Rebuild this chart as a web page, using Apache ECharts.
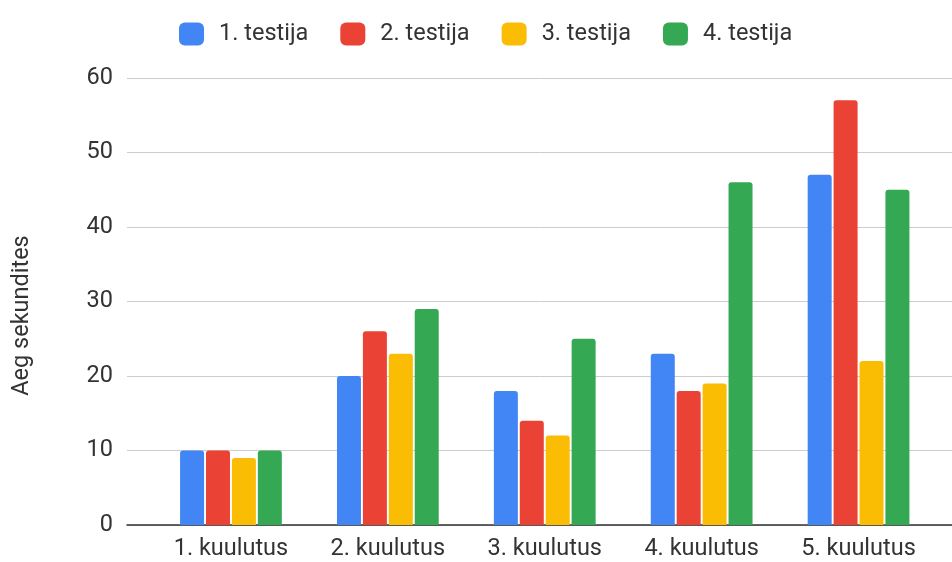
<!DOCTYPE html>
<html>
<head>
<meta charset="utf-8">
<script src="https://cdn.jsdelivr.net/npm/echarts@6/dist/echarts.min.js"></script>
<style>
  html, body { margin: 0; padding: 0; background: #fff; }
  #chart { width: 952px; height: 562px; }
</style>
</head>
<body>
<div id="chart"></div>
<script>
const categories = ['1. kuulutus', '2. kuulutus', '3. kuulutus', '4. kuulutus', '5. kuulutus'];
const seriesNames = ['1. testija', '2. testija', '3. testija', '4. testija'];
const test1 = [10, 20, 18, 23, 47];
const test2 = [10, 26, 14, 18, 57];
const test3 = [9, 23, 12, 19, 22];
const test4 = [10, 29, 25, 46, 45];
const colors = ['#4285F4', '#EA4335', '#FBBC04', '#34A853'];

const font = 'Roboto, "Liberation Sans", Arial, sans-serif';
const fontSize = 23.5;
const textColor = '#333';

const myChart = echarts.init(document.getElementById('chart'));

// bars
const series = [test1, test2, test3, test4].map((vals, i) => ({
  name: seriesNames[i],
  type: 'bar',
  xAxisIndex: 1,
  yAxisIndex: 1,
  data: vals,
  barWidth: 24,
  barGap: '8%',
  itemStyle: { color: colors[i], borderRadius: [3, 3, 0, 0] }
}));

const option = {
  animation: false,
  color: colors,
  textStyle: { fontFamily: font },
  legend: {
    data: seriesNames,
    left: 174,
    top: 17,
    icon: 'roundRect',
    itemWidth: 25,
    itemHeight: 23,
    itemGap: 32,
    textStyle: { fontSize: fontSize, color: textColor, fontFamily: font, padding: [0, 0, 0, 10] }
  },
  grid: [
    { left: 127, right: 0, top: 78, bottom: 37 },
    { left: 152.5, width: 784.5, top: 78, bottom: 37 }
  ],
  xAxis: [
    {
      type: 'value', gridIndex: 0, min: 0, max: 1,
      axisLine: { show: true, lineStyle: { color: '#333', width: 1.5 } },
      axisTick: { show: false }, axisLabel: { show: false }, splitLine: { show: false }
    },
    {
      type: 'category', gridIndex: 1, data: categories,
      axisLine: { show: false }, axisTick: { show: false },
      axisLabel: { fontSize: fontSize, color: textColor, margin: 12, fontFamily: font }
    }
  ],
  yAxis: [
    {
      type: 'value', gridIndex: 0, min: 0, max: 60, interval: 10,
      name: 'Aeg sekundites',
      nameLocation: 'middle',
      nameGap: 93,
      nameTextStyle: { fontSize: fontSize, color: textColor, fontFamily: font, padding: [0, 28, 0, 0] },
      axisLine: { show: false }, axisTick: { show: false },
      axisLabel: { fontSize: fontSize, color: textColor, margin: 14, fontFamily: font },
      splitLine: { lineStyle: { color: '#ccc', width: 1 } }
    },
    {
      type: 'value', gridIndex: 1, min: 0, max: 60, interval: 10, show: false
    }
  ],
  series: series
};

myChart.setOption(option);
</script>
</body>
</html>
